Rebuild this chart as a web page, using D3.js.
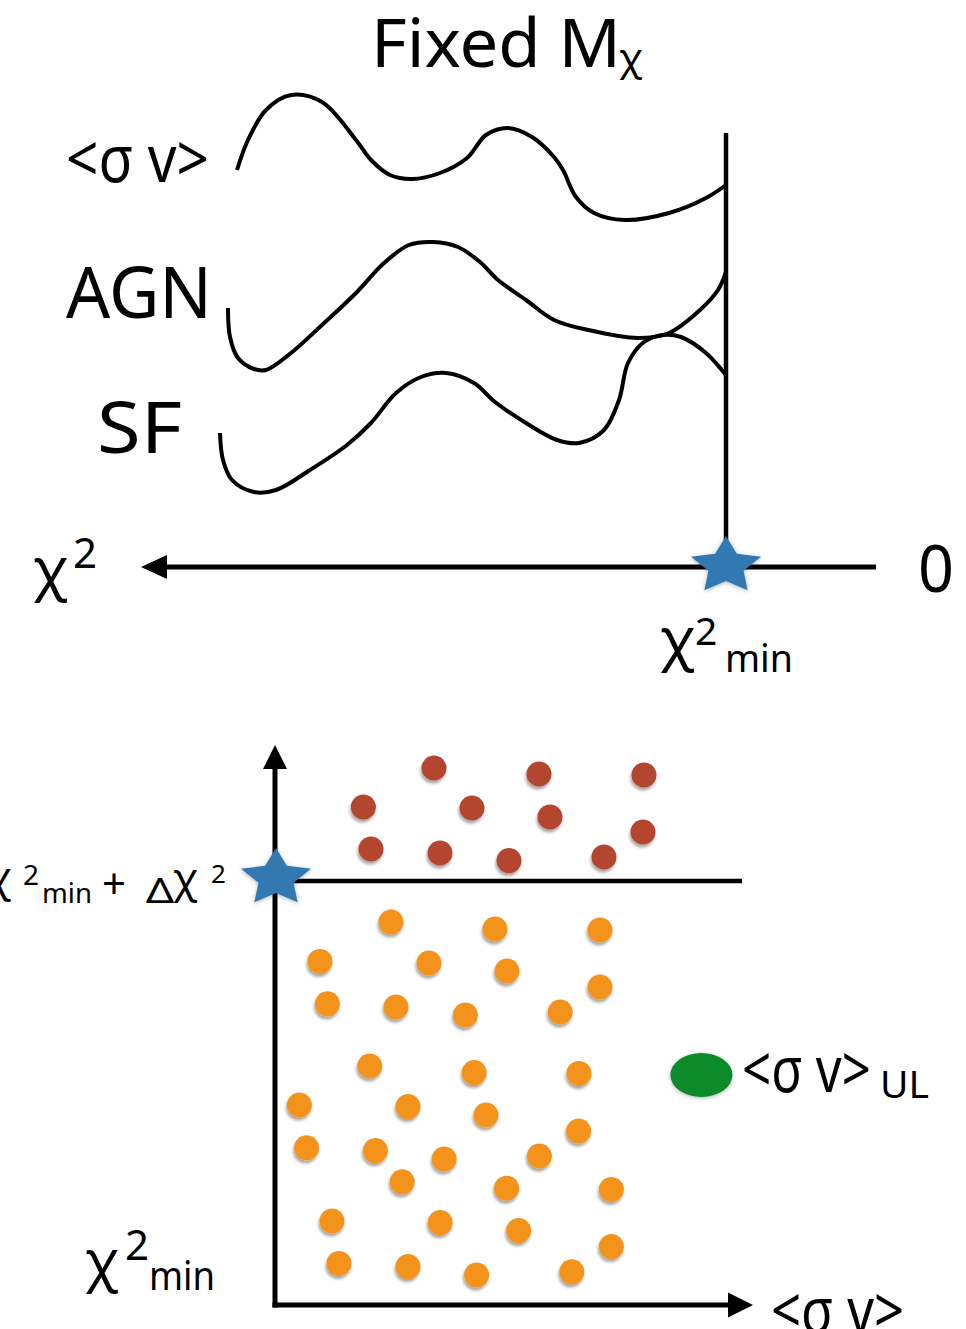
<!DOCTYPE html>
<html><head><meta charset="utf-8">
<script src="https://cdn.jsdelivr.net/npm/d3@7"></script>
<style>body{margin:0;background:#fff}svg{display:block}</style>
</head><body>
<svg id="chart" width="966" height="1329"></svg>
<script>
// ---------- DATA (schematic units) ----------
// Top panel: x = chi^2 (increasing to the left), y = arbitrary offset
const curveSigmaV = [[159.75,99.25],[157,106.75],[152.5,114.25],[146.25,118],[138.5,116.25],[130,106.75],[126.25,101.75],[121.5,98],[116,97],[109,98.5],[102.25,102.25],[97.5,108],[92,109.75],[86,107.5],[80.5,102.5],[78.25,99.25],[75,92.5],[70.5,88.5],[62.75,86.75],[51.75,88.5],[42.5,92.25],[37.5,95.5]];
const curveAGN = [[162,64.75],[161.5,57.5],[159.5,52.25],[155.5,49.5],[152.5,49.25],[146.25,53.5],[138.5,60.5],[130,68.5],[123,76],[116.75,80.5],[110.75,81.25],[104.5,80],[99,76.25],[94.5,71.75],[87.5,66.75],[80.5,61.75],[72,59.25],[59.5,57.25],[51.75,58.5],[44,64.25],[39.5,69.25],[37.5,73.75]];
const curveSF = [[164,33.5],[163.25,26.75],[161,21.75],[155.5,18.75],[150,19.25],[141.5,24.25],[132.25,30.5],[126.25,36],[120,43.5],[113.75,47.5],[107.5,48.5],[100.5,46],[95.25,41.25],[87.5,36],[79.75,31.75],[74.25,31],[68,34.25],[64.25,41.75],[62,51],[58,56.25],[53.25,58],[48.75,57.5],[42.5,53.5],[37.5,48]];
const curveLabels = ["<σ v>", "AGN", "SF"];
const chi2MinValue = 37.5;
const chi2AxisMax = 183.75;
const profileTop = 108.5;

// Bottom panel: x = <sigma v>, y = chi^2
const excludedPoints = [[39.75,134.25],[66,132.75],[92.25,132.5],[22.1,124.5],[49.25,124.25],[68.75,122],[92,118.25],[24,114],[41.25,113],[58.5,111.1],[82.25,112]];
const allowedPoints = [[29,95.75],[55,94],[81.25,93.75],[11.25,85.9],[38.5,85.5],[58,83.5],[81.25,79.5],[13.1,75.3],[30.25,74.5],[47.6,72.5],[71.3,73.25],[23.7,59.75],[49.8,58.1],[76,57.9],[6.1,50],[33.25,49.6],[52.75,47.5],[75.9,43.5],[7.9,39.3],[25.1,38.6],[42.3,36.5],[66.1,37.25],[31.8,30.8],[57.9,29.2],[84.1,28.9],[14.25,21],[41.3,20.6],[60.9,18.6],[84.1,14.6],[16,10.4],[33.25,9.6],[50.4,7.5],[74.2,8.3]];
const upperLimit = [106.6, 57.5];
const deltaChi2Level = 106;
const thresholdEnd = 116.75;
const sigmaAxisMax = 119.5;
const chi2BottomAxisMax = 140;

// ---------- SCALES ----------
const xT = d3.scaleLinear().domain([0,100]).range([876,476]);
const yT = d3.scaleLinear().domain([0,100]).range([567,167]);
const xB = d3.scaleLinear().domain([0,100]).range([275,675]);
const yB = d3.scaleLinear().domain([0,100]).range([1305,905]);

const svg = d3.select("#chart");
const FONT = "'Noto Sans', 'DejaVu Sans', sans-serif";
const defs = svg.append("defs");
const f = defs.append("filter").attr("id","sh").attr("x","-50%").attr("y","-50%").attr("width","200%").attr("height","200%");
f.append("feDropShadow").attr("dx",-1).attr("dy",3).attr("stdDeviation",1.6).attr("flood-color","#000").attr("flood-opacity",0.35);
const g2 = defs.append("filter").attr("id","glow").attr("x","-50%").attr("y","-50%").attr("width","200%").attr("height","200%");
g2.append("feDropShadow").attr("dx",0).attr("dy",1).attr("stdDeviation",2).attr("flood-color","#000").attr("flood-opacity",0.3);

function txt(str, x, y, size, len) {
  const t = svg.append("text").attr("x",x).attr("y",y).attr("font-family",FONT)
    .attr("font-size",size).attr("fill","#000").text(str);
  if (len) t.attr("textLength",len).attr("lengthAdjust","spacingAndGlyphs");
  return t;
}

// star generator (fat 5-point star)
const starPts = d3.range(10).map(i => [i*Math.PI/5, i%2===0 ? 30 : 15]);
const starPath = d3.lineRadial().curve(d3.curveLinearClosed)(starPts);
function star(cx, cy) {
  svg.append("path").attr("d",starPath)
    .attr("transform",`translate(${cx},${cy}) scale(1.23,1)`)
    .attr("fill","#3179B2").attr("filter","url(#glow)");
}

// ---------- TOP PANEL ----------
txt("Fixed M", 371, 67, 68, 250);
txt("χ", 619, 71, 39);

const line = d3.line().x(d=>xT(d[0])).y(d=>yT(d[1])).curve(d3.curveCatmullRom.alpha(0.5));
[curveSigmaV, curveAGN, curveSF].forEach(c => {
  svg.append("path").attr("d",line(c)).attr("fill","none").attr("stroke","#000")
    .attr("stroke-width",4).attr("stroke-linecap","butt");
});

// vertical line at chi2 min
svg.append("line").attr("x1",xT(chi2MinValue)).attr("x2",xT(chi2MinValue))
  .attr("y1",yT(profileTop)).attr("y2",yT(-1.25)).attr("stroke","#000").attr("stroke-width",4.5);

// chi2 axis (pointing left)
svg.append("line").attr("x1",xT(0)).attr("x2",xT(chi2AxisMax)+20).attr("y1",yT(0)).attr("y2",yT(0))
  .attr("stroke","#000").attr("stroke-width",5);
{
  const tx = xT(chi2AxisMax), ty = yT(0);
  svg.append("path").attr("d",`M${tx},${ty}L${tx+26},${ty-12}L${tx+26},${ty+12}Z`).attr("fill","#000");
}
star(xT(chi2MinValue), yT(0)-1);

txt(curveLabels[0], 66, 182, 65, 143);
txt(curveLabels[1], 66, 318, 71, 146);
txt(curveLabels[2], 97, 453, 71, 85);

txt("0", xT(0)+42, 592, 66, 36);
txt("χ", 33, 589, 58);
txt("2", 73, 568, 42);
txt("χ", 660, 659, 58);
txt("2", 695, 645, 39);
txt("min", 725, 672, 38, 68);

// ---------- BOTTOM PANEL ----------
// threshold line
svg.append("line").attr("x1",xB(0)).attr("x2",xB(thresholdEnd)).attr("y1",yB(deltaChi2Level)).attr("y2",yB(deltaChi2Level))
  .attr("stroke","#000").attr("stroke-width",4.5);
// y axis
svg.append("line").attr("x1",xB(0)).attr("x2",xB(0)).attr("y1",yB(0)+2.5).attr("y2",yB(chi2BottomAxisMax)+20)
  .attr("stroke","#000").attr("stroke-width",5);
{
  const tx = xB(0), ty = yB(chi2BottomAxisMax);
  svg.append("path").attr("d",`M${tx},${ty}L${tx-12},${ty+24}L${tx+12},${ty+24}Z`).attr("fill","#000");
}
// x axis
svg.append("line").attr("x1",xB(0)-2.5).attr("x2",xB(sigmaAxisMax)-20).attr("y1",yB(0)).attr("y2",yB(0))
  .attr("stroke","#000").attr("stroke-width",5);
{
  const tx = xB(sigmaAxisMax), ty = yB(0);
  svg.append("path").attr("d",`M${tx},${ty}L${tx-25},${ty-12.5}L${tx-25},${ty+12.5}Z`).attr("fill","#000");
}

svg.append("g").selectAll("circle").data(excludedPoints).join("circle")
  .attr("cx",d=>xB(d[0])).attr("cy",d=>yB(d[1])).attr("r",12.5)
  .attr("fill","#B4442F").attr("filter","url(#sh)");
svg.append("g").selectAll("circle").data(allowedPoints).join("circle")
  .attr("cx",d=>xB(d[0])).attr("cy",d=>yB(d[1])).attr("r",12.5)
  .attr("fill","#F3931F").attr("filter","url(#sh)");
svg.append("ellipse").attr("cx",xB(upperLimit[0])).attr("cy",yB(upperLimit[1]))
  .attr("rx",31).attr("ry",22).attr("fill","#078A2A").attr("filter","url(#glow)");

star(xB(0)+1, yB(deltaChi2Level)-3);

// labels
txt("χ", -14, 892, 42);
txt("2", 23, 885, 28);
txt("min", 42, 903, 28, 50);
txt("+", 102, 899, 42);
txt("Δ", 146, 903, 34, 28);
txt("χ", 173, 893, 41);
txt("2", 211, 883, 26);

txt("χ", 85, 1280, 56);
txt("2", 125, 1260, 42);
txt("min", 149, 1290, 40, 66);

// upper-limit label: natural-width text stretched vertically so it does not collide with the subscript
svg.append("text").attr("transform","translate(742,1092) scale(1,1.25)")
  .attr("font-family",FONT).attr("font-size",51).attr("fill","#000").text("<σ v>");
txt("UL", 880, 1098, 39);
txt("<σ v>", 771, 1333, 64, 133);
</script>
</body></html>
